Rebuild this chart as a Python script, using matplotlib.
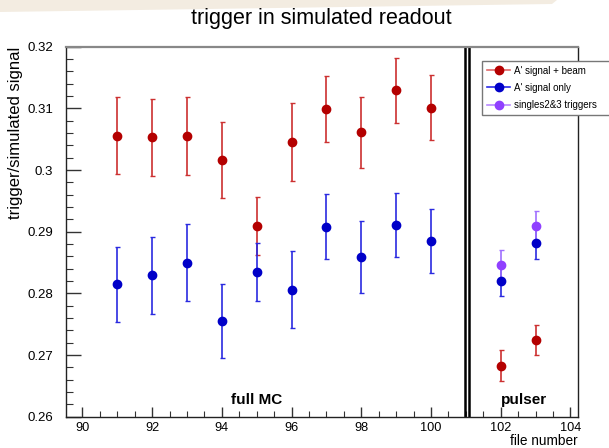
import matplotlib
matplotlib.use('Agg')
import matplotlib.pyplot as plt
from matplotlib.patches import Polygon
from matplotlib.lines import Line2D
from matplotlib.ticker import MultipleLocator

plt.rcParams['font.family'] = ['Liberation Sans', 'DejaVu Sans']

# file numbers
files_mc = [91, 92, 93, 94, 95, 96, 97, 98, 99, 100]
files_pulser = [102, 103]

# A' signal + beam
beam = [0.3056, 0.3053, 0.3055, 0.3016, 0.2909, 0.3045, 0.3099, 0.3061, 0.3129, 0.3101, 0.2683, 0.2724]
beam_err = [0.0062, 0.0062, 0.0063, 0.0062, 0.0047, 0.0063, 0.0054, 0.0058, 0.0053, 0.0053, 0.0025, 0.0024]

# A' signal only
sig = [0.2815, 0.2829, 0.2850, 0.2756, 0.2834, 0.2806, 0.2908, 0.2859, 0.2911, 0.2885, 0.2820, 0.2881]
sig_err = [0.0061, 0.0062, 0.0062, 0.0060, 0.0047, 0.0062, 0.0053, 0.0058, 0.0052, 0.0052, 0.0025, 0.0025]

# singles2&3 triggers (pulser only)
singles = [0.2846, 0.2909]
singles_err = [0.0025, 0.0025]

labels = ["A' signal + beam", "A' signal only", "singles2&3 triggers"]

W, H = 609, 448
fig = plt.figure(figsize=(W / 100, H / 100), dpi=100)

# screenshot strip at the top
fig.patches.append(Polygon([[0, 1], [557 / W, 1], [552 / W, 1 - 4 / H], [0, 1 - 12 / H]],
                           closed=True, transform=fig.transFigure, facecolor='#f3ece1',
                           edgecolor='none', zorder=0))

ax = fig.add_axes([65.7 / W, 1 - 416.7 / H, (577.7 - 65.7) / W, (416.7 - 46.7) / H])

files = files_mc + files_pulser
red, blue, purple = '#b40000', '#0000c8', '#9040ff'
ax.errorbar(files, beam, yerr=beam_err, fmt='o', color=red, ecolor='#cc3030',
            ms=6, elinewidth=1.2, capsize=1.8, capthick=1.0)
ax.errorbar(files, sig, yerr=sig_err, fmt='o', color=blue, ecolor='#2a2ae0',
            ms=6, elinewidth=1.2, capsize=1.8, capthick=1.0)
ax.errorbar(files_pulser, singles, yerr=singles_err, fmt='o', color=purple, ecolor='#a070ff',
            ms=6, elinewidth=1.2, capsize=1.8, capthick=1.0)

# separator between full MC and pulser
ax.axvline(100.97, color='black', lw=1.8)
ax.axvline(101.10, color='black', lw=1.8)

ax.text(95.0, 0.2627, 'full MC', ha='center', va='center', fontsize=11, fontweight='bold')
ax.text(102.68, 0.2627, 'pulser', ha='center', va='center', fontsize=11, fontweight='bold')

ax.set_xlim(89.52, 104.21)
ax.set_ylim(0.26, 0.32)
ax.xaxis.set_major_locator(MultipleLocator(2))
ax.xaxis.set_minor_locator(MultipleLocator(0.5))
ax.yaxis.set_minor_locator(MultipleLocator(0.002))
ax.set_yticks([0.26, 0.27, 0.28, 0.29, 0.30, 0.31, 0.32])
ax.set_yticklabels(['0.26', '0.27', '0.28', '0.29', '0.3', '0.31', '0.32'])
ax.tick_params(which='both', direction='in', top=False, right=False, labelsize=9.5, color='#333333')
ax.tick_params(axis='y', which='major', length=11, width=1.0, pad=9)
ax.tick_params(axis='y', which='minor', length=5, width=0.8)
ax.tick_params(axis='x', which='major', length=7.5, width=1.0, pad=4, labelsize=9.2)
ax.tick_params(axis='x', which='minor', length=4, width=0.8)

ax.spines['top'].set_color('#888888')
ax.spines['top'].set_linewidth(1.6)
for s in ['left', 'bottom', 'right']:
    ax.spines[s].set_color('#222222')
    ax.spines[s].set_linewidth(1.0)

ax.set_ylabel('trigger/simulated signal', fontsize=12, loc='top', labelpad=3)
# x title sits right at the bottom edge, aligned to the axis end
fig.text(577.7 / W, 0.5 / H, 'file number', ha='right', va='bottom', fontsize=9.8)

fig.text(321.7 / W, 1 - 24 / H, 'trigger in simulated readout', ha='center', va='baseline', fontsize=15.5)

handles = [Line2D([], [], color='#e06868', marker='o', mfc=red, mec=red, ms=6, lw=1.2),
           Line2D([], [], color='#2a2ae8', marker='o', mfc=blue, mec=blue, ms=6, lw=1.2),
           Line2D([], [], color='#b888ff', marker='o', mfc=purple, mec=purple, ms=6, lw=1.2)]
fig.legend(handles, labels, loc='upper left', mode='expand',
           bbox_to_anchor=(482 / W, 1 - 116 / H, 150 / W, 55.3 / H),
           fontsize=7, frameon=True, fancybox=False, edgecolor='#777777', framealpha=1,
           handlelength=2.4, handletextpad=0.4, labelspacing=0.75, borderaxespad=0,
           borderpad=0.5)

fig.savefig('out.png', dpi=100)
